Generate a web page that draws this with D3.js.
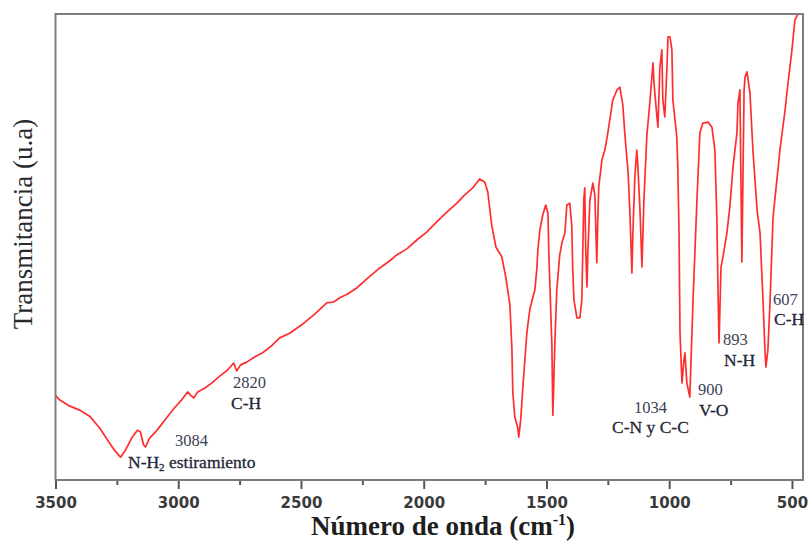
<!DOCTYPE html>
<html>
<head>
<meta charset="utf-8">
<script src="https://cdn.jsdelivr.net/npm/d3@7"></script>
<style>
  html, body { margin: 0; padding: 0; background: #fff; }
  svg { display: block; }
</style>
</head>
<body>
<svg id="chart" width="809" height="543"></svg>
<script>
// FTIR spectrum: wavenumber (cm-1) and transmittance (arbitrary units)
const wavenumber = [
  3500, 3484, 3443, 3402, 3361, 3321, 3288, 3260, 3235, 3215,
  3190, 3166, 3154, 3141, 3133, 3117, 3096, 3076, 3048, 3015,
  2986, 2962, 2950, 2937, 2921, 2893, 2864, 2831, 2799, 2774,
  2762, 2746, 2721, 2689, 2656, 2620, 2587, 2546, 2497, 2444,
  2395, 2367, 2342, 2310, 2273, 2228, 2179, 2139, 2110, 2069,
  2028, 1988, 1947, 1906, 1865, 1833, 1800, 1772, 1751, 1739,
  1723, 1706, 1682, 1666, 1649, 1641, 1637, 1629, 1617, 1613,
  1605, 1596, 1588, 1580, 1568, 1556, 1547, 1539, 1535, 1527,
  1515, 1503, 1494, 1490, 1486, 1478, 1474, 1466, 1458, 1446,
  1437, 1425, 1417, 1405, 1397, 1393, 1388, 1376, 1364, 1356,
  1348, 1344, 1340, 1335, 1331, 1323, 1311, 1303, 1295, 1291,
  1287, 1274, 1262, 1250, 1230, 1213, 1201, 1189, 1181, 1172,
  1168, 1160, 1152, 1148, 1140, 1132, 1128, 1119, 1111, 1103,
  1091, 1079, 1066, 1062, 1050, 1046, 1038, 1030, 1026, 1018,
  1009, 1005, 997, 989, 985, 969, 965, 960, 956, 948,
  940, 936, 928, 916, 903, 887, 875, 863, 842, 826,
  814, 806, 801, 797, 789, 781, 765, 753, 740, 724,
  720, 712, 704, 695, 691, 683, 671, 659, 642, 630,
  618, 610, 606, 598, 589, 577, 549, 528, 516, 500,
  488, 467, 455
];
const transmittance = [
  18.2, 17.2, 15.9, 15.0, 13.7, 11.2, 8.6, 6.4, 4.9, 6.4,
  9.0, 10.7, 10.3, 7.5, 7.1, 9.0, 10.1, 11.4, 13.3, 15.5,
  17.2, 18.9, 18.2, 17.6, 18.9, 19.7, 20.8, 22.3, 23.6, 25.1,
  23.4, 24.7, 25.3, 26.4, 27.3, 28.8, 30.5, 31.5, 33.3, 35.6,
  38.0, 38.2, 39.1, 39.9, 41.2, 43.3, 45.5, 47.0, 48.3, 49.6,
  51.5, 53.2, 55.4, 57.5, 59.4, 61.2, 62.7, 64.6, 63.9, 61.8,
  54.7, 50.0, 47.9, 43.6, 37.6, 28.5, 18.7, 13.5, 11.2, 9.2,
  12.9, 20.0, 25.8, 31.5, 36.5, 39.1, 40.8, 45.5, 49.4, 53.6,
  56.9, 59.0, 57.3, 47.9, 41.8, 29.0, 13.9, 29.0, 40.8, 48.3,
  50.9, 53.0, 59.0, 59.4, 54.7, 45.1, 38.6, 34.8, 34.8, 38.6,
  60.1, 62.7, 49.4, 41.4, 49.4, 60.1, 63.7, 61.2, 46.6, 55.8,
  62.9, 68.7, 70.8, 74.5, 81.5, 83.7, 84.3, 80.5, 74.5, 68.7,
  66.5, 57.3, 44.4, 53.0, 65.0, 70.8, 67.6, 57.9, 45.7, 60.1,
  74.0, 80.9, 89.5, 85.2, 77.9, 75.7, 88.6, 92.3, 81.5, 77.9,
  88.6, 95.1, 95.1, 92.3, 81.5, 73.6, 67.2, 53.0, 31.5, 20.8,
  25.8, 27.3, 20.8, 17.8, 38.6, 60.1, 74.5, 76.6, 76.8, 75.7,
  70.8, 56.4, 40.1, 29.4, 45.7, 47.9, 53.0, 58.6, 67.2, 74.5,
  80.9, 83.7, 46.8, 83.7, 86.5, 87.6, 83.0, 70.8, 57.9, 53.0,
  38.6, 27.9, 24.2, 27.9, 38.6, 56.4, 70.8, 79.4, 85.2, 92.3,
  98.7, 100.9, 103.0
];

// Axis ticks
const majorTicks = [3500, 3000, 2500, 2000, 1500, 1000, 500];
const minorTicks = [3250, 2750, 2250, 1750, 1250, 750];

// Band assignments written on the plot
const bandNumbers = ["3084", "2820", "1034", "900", "893", "607"];
const bandGroups = ["N-H", "C-H", "C-N y C-C", "V-O", "N-H", "C-H"];

const svg = d3.select("#chart");
const frame = { left: 55.5, right: 803, top: 14, bottom: 480 };

const x = d3.scaleLinear().domain([3500, 455]).range([frame.left, frame.right]);
const y = d3.scaleLinear().domain([0, 100]).range([frame.bottom, frame.top]);

svg.append("defs").append("clipPath").attr("id", "plotArea")
  .append("rect")
  .attr("x", frame.left).attr("y", frame.top)
  .attr("width", frame.right - frame.left).attr("height", frame.bottom - frame.top);

// Spectrum trace
const points = wavenumber.map((w, i) => [w, transmittance[i]]);
const line = d3.line().x(d => x(d[0])).y(d => y(d[1]));
svg.append("path")
  .datum(points)
  .attr("clip-path", "url(#plotArea)")
  .attr("fill", "none")
  .attr("stroke", "#ff2e2e")
  .attr("stroke-width", 1.7)
  .attr("stroke-linejoin", "round")
  .attr("d", line);

// Bottom axis: major ticks with labels, minor ticks without
const axisG = svg.append("g").attr("transform", `translate(0,${frame.bottom})`);
axisG.call(d3.axisBottom(x).tickValues(majorTicks).tickSize(9).tickPadding(8).tickFormat(d3.format("d")));
axisG.select(".domain").remove();
axisG.selectAll(".tick line").attr("stroke", "#555").attr("stroke-width", 2);
axisG.selectAll(".tick text")
  .attr("font-family", "DejaVu Sans, sans-serif")
  .attr("font-weight", "bold")
  .attr("font-size", 15)
  .attr("fill", "#3a3a3a");

const minorG = svg.append("g").attr("transform", `translate(0,${frame.bottom})`);
minorG.call(d3.axisBottom(x).tickValues(minorTicks).tickSize(5).tickFormat(""));
minorG.select(".domain").remove();
minorG.selectAll(".tick line").attr("stroke", "#555").attr("stroke-width", 2);

// Plot frame
svg.append("rect")
  .attr("x", frame.left).attr("y", frame.top)
  .attr("width", frame.right - frame.left).attr("height", frame.bottom - frame.top)
  .attr("fill", "none").attr("stroke", "#7d7d7d").attr("stroke-width", 2);

// Axis titles
const xTitle = svg.append("text")
  .attr("x", 443).attr("y", 535)
  .attr("text-anchor", "middle")
  .attr("font-family", "Liberation Serif, Times New Roman, serif")
  .attr("font-weight", "bold")
  .attr("font-size", 27)
  .attr("fill", "#1e1e1e");
xTitle.append("tspan").text("Número de onda (cm");
xTitle.append("tspan").attr("font-size", 16).attr("dy", -10).text("-1");
xTitle.append("tspan").attr("dy", 10).text(")");

svg.append("text")
  .attr("transform", "translate(32,224) rotate(-90)")
  .attr("text-anchor", "middle")
  .attr("font-family", "Liberation Serif, Times New Roman, serif")
  .attr("font-size", 27)
  .attr("fill", "#2a2a2a")
  .text("Transmitancia (u.a)");

// Band annotations
const annoFont = "Liberation Serif, Times New Roman, serif";
const numberPos = [[175, 446], [233, 388], [634, 413], [698, 395], [723, 345], [773, 305]];
const groupPos = [[128, 468], [231, 409], [612, 433], [699, 416], [724, 366], [774, 325]];

bandNumbers.forEach((t, i) => {
  svg.append("text")
    .attr("x", numberPos[i][0]).attr("y", numberPos[i][1])
    .attr("font-family", annoFont).attr("font-size", 16.5)
    .attr("fill", "#3b4254")
    .text(t);
});

bandGroups.forEach((t, i) => {
  const g = svg.append("text")
    .attr("x", groupPos[i][0]).attr("y", groupPos[i][1])
    .attr("font-family", annoFont).attr("font-size", 17.5)
    .attr("fill", "#1f2638")
    .attr("stroke", "#1f2638").attr("stroke-width", 0.3);
  g.append("tspan").text(t);
  if (i === 0) {
    g.append("tspan").attr("font-size", 11).attr("dy", 3).text("2");
    g.append("tspan").attr("dy", -3).text(" estiramiento");
  }
});
</script>
</body>
</html>
